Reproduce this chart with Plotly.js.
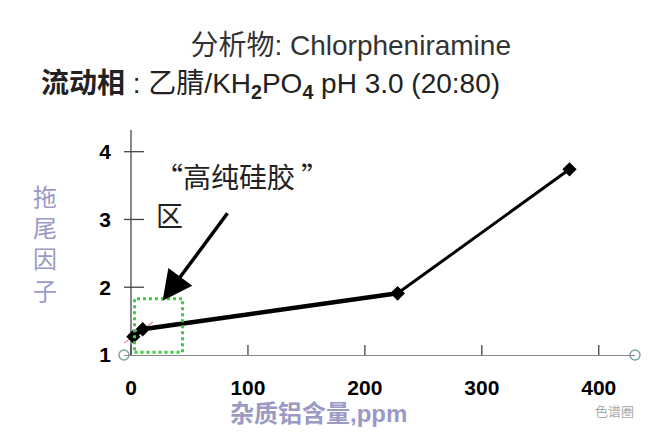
<!DOCTYPE html>
<html>
<head>
<meta charset="utf-8">
<script src="https://cdn.plot.ly/plotly-3.0.1.min.js"></script>
<style>html,body{margin:0;padding:0;background:#fff;}#chart{width:668px;height:440px;}</style>
</head>
<body>
<div id="chart"></div>
<script>
// ---- data ----
const aluminumPpm = [2, 10, 228, 375];
const tailingFactor = [1.27, 1.38, 1.91, 3.74];
const trendX = [-8, 19];
const trendY = [1.15, 1.49];
const boxX = [3, 44];
const boxY = [1.04, 1.83];
const arrowTip = [27, 1.80];
const xTicks = [0, 100, 200, 300, 400];
const yTicks = [1, 2, 3, 4];
const xRange = [-6, 431];
const yRange = [1, 4.32];

const cjk = '"Liberation Sans", "Noto Sans CJK SC", sans-serif';
const lav = '#9a9ac4';

const traces = [
  {x: trendX, y: trendY, mode: 'lines', line: {color: '#e08a8a', width: 1.2}, cliponaxis: false, hoverinfo: 'skip'},
  {x: aluminumPpm.slice(0, 3), y: tailingFactor.slice(0, 3), mode: 'lines+markers',
   line: {color: '#000', width: 4.5}, marker: {symbol: 'diamond', size: 11, color: '#000'}, cliponaxis: false},
  {x: aluminumPpm.slice(2), y: tailingFactor.slice(2), mode: 'lines+markers',
   line: {color: '#000', width: 3}, marker: {symbol: 'diamond', size: 11, color: '#000'}, cliponaxis: false},
  {x: xRange, y: [yRange[0], yRange[0]], mode: 'markers', cliponaxis: false,
   marker: {symbol: 'circle-open', size: 10, color: '#7fa3a3', line: {width: 1.5}}}
];

const shapes = [];
xTicks.forEach(v => shapes.push({type: 'line', xref: 'x', yref: 'y', ysizemode: 'pixel', yanchor: yRange[0],
  x0: v, x1: v, y0: -13, y1: 10, line: {color: '#444', width: 1.3}}));
yTicks.slice(1).forEach(v => shapes.push({type: 'line', xref: 'x', yref: 'y', xsizemode: 'pixel', xanchor: 0,
  x0: -12, x1: 13, y0: v, y1: v, line: {color: '#444', width: 1.3}}));
shapes.push({type: 'rect', xref: 'x', yref: 'y', x0: boxX[0], x1: boxX[1], y0: boxY[0], y1: boxY[1],
  line: {color: '#3ccc3c', width: 3, dash: 'dot'}});

const layout = {
  width: 668, height: 440,
  margin: {l: 124, r: 33, t: 130, b: 85},
  paper_bgcolor: '#fff', plot_bgcolor: '#fff',
  showlegend: false,
  title: {text: '分析物: Chlorpheniramine', x: 0.525, xanchor: 'center', y: 0.897, yanchor: 'middle',
    font: {family: cjk, size: 28, color: '#333'}},
  xaxis: {range: xRange, showgrid: false, zeroline: true, zerolinecolor: '#888', zerolinewidth: 1.3,
    showline: true, linecolor: '#888', linewidth: 1.3, tickvals: xTicks, ticks: '',
    ticklabelstandoff: 13, tickfont: {family: '"Liberation Sans", sans-serif', size: 21, color: '#000', weight: 'bold'}},
  yaxis: {range: yRange, showgrid: false, zeroline: false, showline: false, tickvals: yTicks, ticks: '',
    ticklabelstandoff: 12, tickfont: {family: '"Liberation Sans", sans-serif', size: 21, color: '#000', weight: 'bold'}},
  shapes: shapes,
  annotations: [
    {xref: 'paper', yref: 'paper', x: -0.166, y: 1.2, xanchor: 'left', yanchor: 'middle', showarrow: false,
     text: '<b>流动相</b> : 乙腈/KH<sub><b>2</b></sub>PO<sub><b>4</b></sub> pH 3.0 (20:80)',
     font: {family: cjk, size: 28, color: '#222'}},
    {xref: 'paper', yref: 'paper', x: -0.155, y: 0.49, xanchor: 'center', yanchor: 'middle', showarrow: false,
     text: '拖<br>尾<br>因<br>子', font: {family: cjk, size: 24, color: lav}},
    {xref: 'paper', yref: 'paper', x: 0.38, y: -0.26, xanchor: 'center', yanchor: 'middle', showarrow: false,
     text: '<b>杂质铝含量,ppm</b>', font: {family: cjk, size: 24, color: lav}},
    {xref: 'x', yref: 'y', x: 19, y: 3.64, xanchor: 'left', yanchor: 'middle', showarrow: false,
     text: '“高纯硅胶 ”', font: {family: '"Noto Sans CJK SC", sans-serif', size: 28, color: '#222'}},
    {xref: 'x', yref: 'y', x: 19.5, y: 3.08, xanchor: 'left', yanchor: 'middle', showarrow: false,
     text: '区', font: {family: '"Noto Sans CJK SC", sans-serif', size: 27, color: '#222'}},
    {xref: 'x', yref: 'y', x: arrowTip[0], y: arrowTip[1], ax: 66, ay: -89, text: '', showarrow: true,
     arrowhead: 2, arrowsize: 1.7, arrowwidth: 3.5, arrowcolor: '#000'},
    {xref: 'paper', yref: 'paper', x: 0.96, y: -0.245, xanchor: 'center', yanchor: 'middle', showarrow: false,
     text: '色谱圈', font: {family: '"Noto Sans CJK SC", sans-serif', size: 13, color: '#aaa'}}
  ]
};

Plotly.newPlot('chart', traces, layout, {staticPlot: true, displayModeBar: false});
</script>
</body>
</html>
